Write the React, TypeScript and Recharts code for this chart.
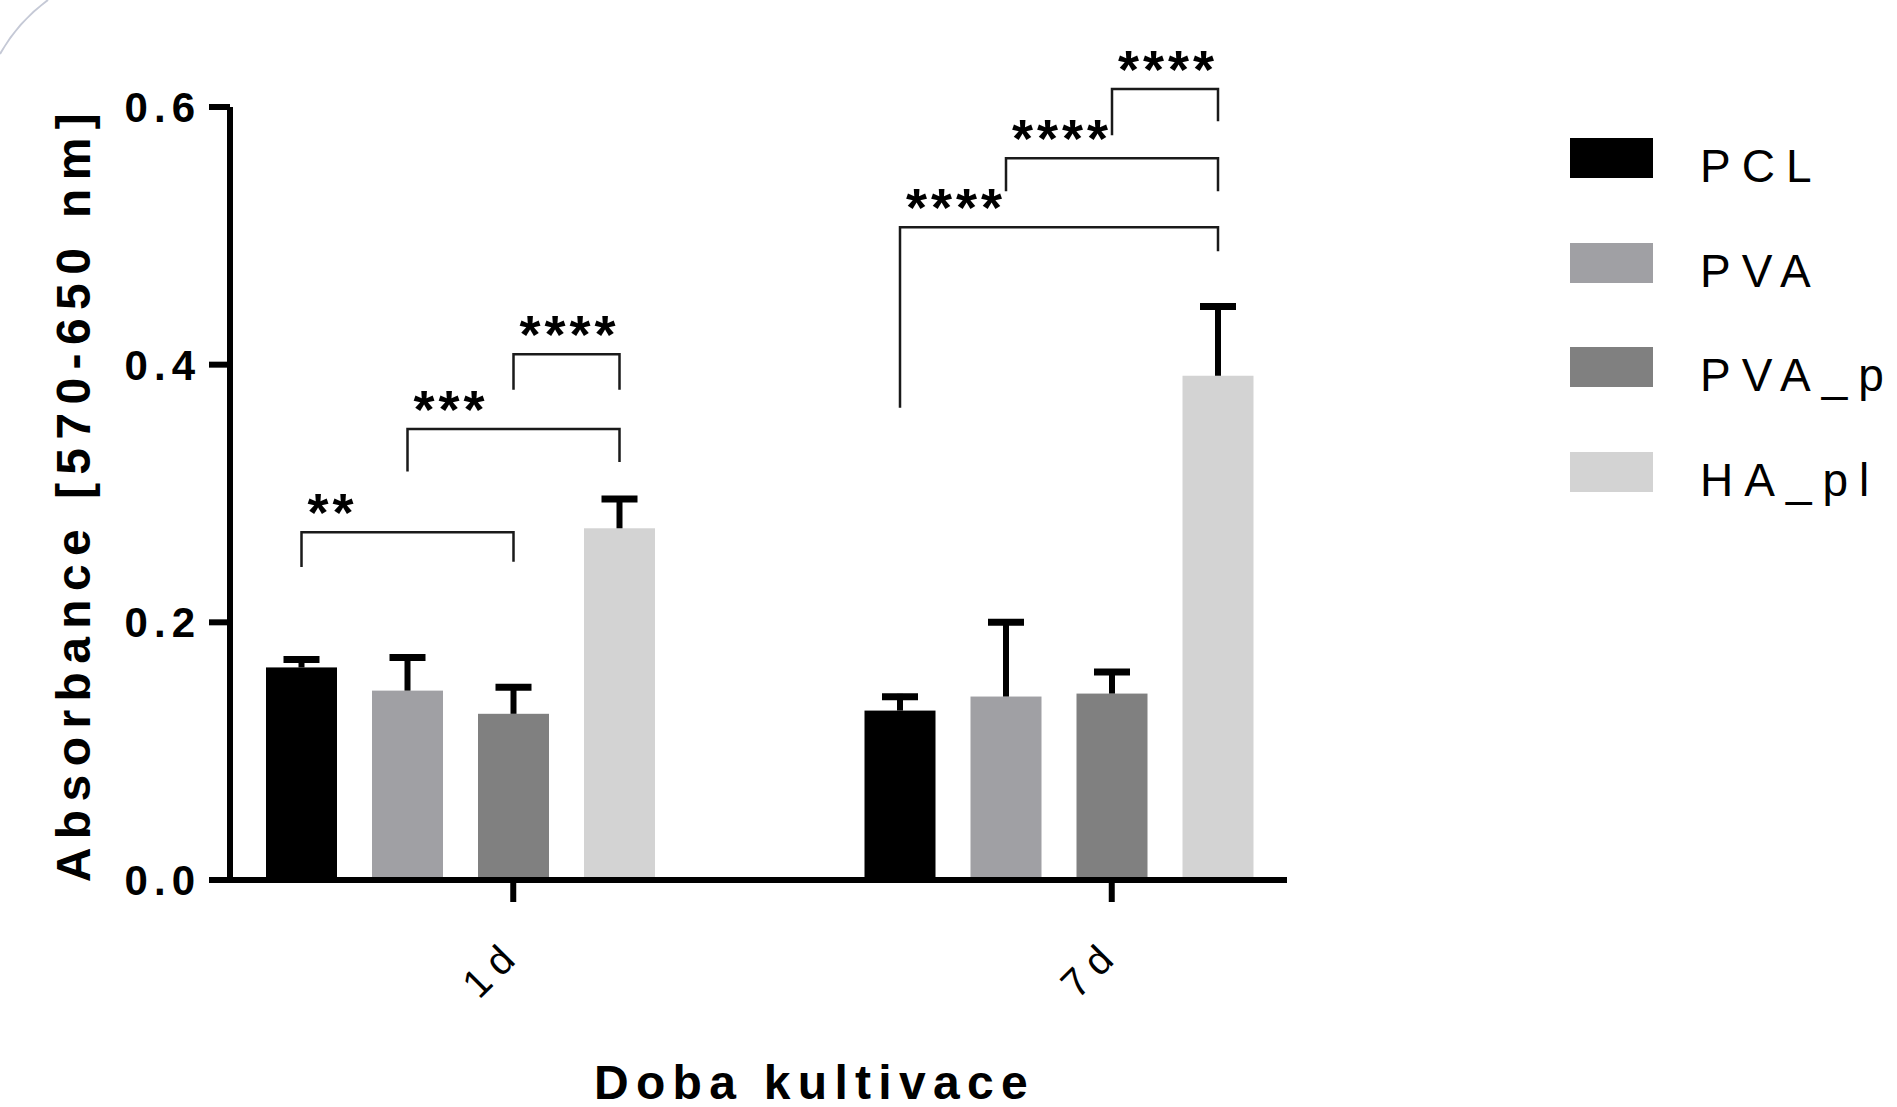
import { Bar, BarChart, Label, Legend, XAxis, YAxis } from "recharts";

// doba kultivace
const days = ["1d", "7d"];
const groups = ["PCL", "PVA", "PVA_pl", "HA_pl"];
const colors = ["#000000", "#a0a0a4", "#808080", "#d3d3d3"];

// mean absorbance, per day
const pclMean = [0.165, 0.1315];
const pvaMean = [0.147, 0.1424];
const pvaPlMean = [0.129, 0.1447];
const haPlMean = [0.273, 0.3914];

// SD (upper error only)
const pclSd = [0.0085, 0.013];
const pvaSd = [0.028, 0.06];
const pvaPlSd = [0.023, 0.019];
const haPlSd = [0.025, 0.056];

const yTicks = [0, 0.2, 0.4, 0.6];

// significance brackets: bar indexes, heights in absorbance units
const comparisons = [
  { day: "1d", from: 0, to: 2, level: 0.27, leftEnd: 0.243, rightEnd: 0.247, stars: "**" },
  { day: "1d", from: 1, to: 3, level: 0.35, leftEnd: 0.317, rightEnd: 0.3245, stars: "***" },
  { day: "1d", from: 2, to: 3, level: 0.408, leftEnd: 0.3805, rightEnd: 0.3805, stars: "****" },
  { day: "7d", from: 0, to: 3, level: 0.5066, leftEnd: 0.3665, rightEnd: 0.488, stars: "****" },
  { day: "7d", from: 1, to: 3, level: 0.5603, leftEnd: 0.5346, rightEnd: 0.5346, stars: "****" },
  { day: "7d", from: 2, to: 3, level: 0.614, leftEnd: 0.578, rightEnd: 0.589, stars: "****" },
];

const means = [pclMean, pvaMean, pvaPlMean, haPlMean];
const sds = [pclSd, pvaSd, pvaPlSd, haPlSd];

const data = days.map((day, i) => {
  const row: any = { day };
  groups.forEach((g, j) => {
    row[g] = means[j][i];
    row[g + "_sd"] = sds[j][i];
  });
  return row;
});

const FONT = "'Liberation Sans', Arial, sans-serif";
const BAR = 71;
const GAP = 35;
const STEP = BAR + GAP;

const makeShape = (idx: number) => (p: any) => {
  const { x, y, width, height, fill, payload } = p;
  const v = payload[groups[idx]];
  const ppu = height / v;
  const base = y + height;
  const cx = x + width / 2;
  const errTop = y - payload[groups[idx] + "_sd"] * ppu;
  return (
    <g>
      <rect x={x} y={y} width={width} height={height} fill={fill} />
      <line x1={cx} x2={cx} y1={y} y2={errTop} stroke="#000" strokeWidth={6} />
      <line x1={cx - 18} x2={cx + 18} y1={errTop + 3} y2={errTop + 3} stroke="#000" strokeWidth={7} />
      {idx === groups.length - 1 &&
        comparisons
          .filter((c) => c.day === payload.day)
          .map((c, k) => {
            const xl = cx - (idx - c.from) * STEP;
            const xr = cx - (idx - c.to) * STEP;
            const yl = base - c.level * ppu;
            return (
              <g key={k}>
                <path
                  d={`M${xl},${base - c.leftEnd * ppu}V${yl}H${xr}V${base - c.rightEnd * ppu}`}
                  fill="none"
                  stroke="#1a1a1a"
                  strokeWidth={2.5}
                />
                <text
                  x={xl + 6}
                  y={yl - 1}
                  fontSize={54}
                  fontWeight={700}
                  fontFamily={FONT}
                  letterSpacing={4}
                  fill="#000"
                >
                  {c.stars}
                </text>
              </g>
            );
          })}
    </g>
  );
};

const DayTick = (p: any) => {
  const { x, y, payload } = p;
  const tx = x + STEP / 2;
  const ax = tx + 10;
  const ay = y + 76;
  return (
    <g>
      <line x1={tx} x2={tx} y1={y} y2={y + 22} stroke="#000" strokeWidth={6} />
      <text
        x={ax}
        y={ay}
        transform={`rotate(-45 ${ax} ${ay})`}
        textAnchor="end"
        fontSize={40}
        letterSpacing={9}
        fontFamily={FONT}
        fill="#000"
      >
        {payload.value}
      </text>
    </g>
  );
};

const ValueTick = (p: any) => {
  const { x, y, payload } = p;
  return (
    <text x={x} y={y} dy="0.355em" textAnchor="end" fontSize={42} fontWeight={700} letterSpacing={6} fontFamily={FONT} fill="#000">
      {payload.value.toFixed(1)}
    </text>
  );
};

const LegendBox = () => (
  <div style={{ fontFamily: FONT }}>
    {groups.map((g, i) => (
      <div key={g} style={{ position: "relative", height: 104.7 }}>
        <span style={{ position: "absolute", left: 0, top: 0, width: 83, height: 40, background: colors[i] }} />
        <span
          style={{
            position: "absolute",
            left: 130,
            top: 5,
            fontSize: 46,
            lineHeight: "46px",
            letterSpacing: 11,
            color: "#000",
            whiteSpace: "nowrap",
          }}
        >
          {g}
        </span>
      </div>
    ))}
  </div>
);

const App = () => {
  return (
    <div style={{ position: "relative", width: 1897, height: 1107, overflow: "hidden" }}>
      <style>{`html,body{margin:0;padding:0;overflow:hidden;background:#fff}`}</style>
      <svg width={60} height={60} style={{ position: "absolute", left: 0, top: 0 }}>
        <path d="M0,54 Q18,22 48,0" fill="none" stroke="#c5c9d6" strokeWidth={2} />
      </svg>
      <BarChart
        width={1897}
        height={1107}
        data={data}
        margin={{ top: 107, right: 610, bottom: 127, left: 0 }}
        barSize={BAR}
        barGap={GAP}
      >
        <XAxis
          dataKey="day"
          height={100}
          padding={{ left: -69, right: -71 }}
          axisLine={{ stroke: "#000", strokeWidth: 6 }}
          tickLine={false}
          tickSize={0}
          tickMargin={0}
          tick={<DayTick />}
          interval={0}
        >
          <Label
            content={(lp: any) => {
              const vb = lp.viewBox;
              return (
                <text
                  x={vb.x + vb.width / 2 + 56}
                  y={vb.y + 219}
                  textAnchor="middle"
                  fontSize={48}
                  fontWeight={700}
                  letterSpacing={7.3}
                  fontFamily={FONT}
                  fill="#000"
                >
                  Doba kultivace
                </text>
              );
            }}
          />
        </XAxis>
        <YAxis
          width={230}
          domain={[0, 0.6]}
          ticks={yTicks}
          axisLine={{ stroke: "#000", strokeWidth: 6 }}
          tickLine={{ stroke: "#000", strokeWidth: 6 }}
          tickSize={21}
          tickMargin={8}
          tick={<ValueTick />}
        >
          <Label
            content={(lp: any) => {
              const vb = lp.viewBox;
              const lx = vb.x + 90;
              const ly = vb.y + vb.height / 2;
              return (
                <text
                  x={lx}
                  y={ly}
                  transform={`rotate(-90 ${lx} ${ly})`}
                  textAnchor="middle"
                  fontSize={48}
                  fontWeight={700}
                  letterSpacing={8.4}
                  fontFamily={FONT}
                  fill="#000"
                >
                  Absorbance [570-650 nm]
                </text>
              );
            }}
          />
        </YAxis>
        <Legend
          layout="vertical"
          align="center"
          verticalAlign="middle"
          content={<LegendBox />}
          wrapperStyle={{ left: 1570, top: 138, width: 327, overflow: "hidden" }}
        />
        {groups.map((g, i) => (
          <Bar key={g} dataKey={g} fill={colors[i]} shape={makeShape(i)} isAnimationActive={false} />
        ))}
      </BarChart>
    </div>
  );
};

export default App;
